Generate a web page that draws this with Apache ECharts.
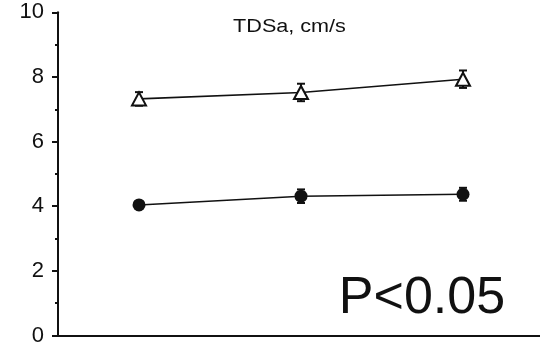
<!DOCTYPE html>
<html>
<head>
<meta charset="utf-8">
<script src="https://cdn.jsdelivr.net/npm/echarts@6/dist/echarts.min.js"></script>
<style>html,body{margin:0;padding:0;background:#fff}#c{width:540px;height:350px}</style>
</head>
<body>
<div id="c"></div>
<script>
var categories = ['T1', 'T2', 'T3'];
var triangleValues = [7.32, 7.52, 7.93];
var triangleErrors = [0.21, 0.27, 0.27];
var circleValues = [4.04, 4.31, 4.37];
var circleErrors = [0.12, 0.21, 0.2];
var yTicks = [0, 2, 4, 6, 8, 10];
var titleText = 'TDSa, cm/s';
var pText = 'P<0.05';

var chart = echarts.init(document.getElementById('c'));

function errData(vals, errs) {
  return vals.map(function (v, i) { return [i, v - errs[i], v + errs[i]]; });
}
function errRender(params, api) {
  var x = api.value(0);
  var lo = api.coord([x, api.value(1)]);
  var hi = api.coord([x, api.value(2)]);
  var hw = 4;
  var st = { stroke: '#111', lineWidth: 2 };
  return {
    type: 'group',
    children: [
      { type: 'line', shape: { x1: lo[0], y1: lo[1], x2: hi[0], y2: hi[1] }, style: st },
      { type: 'line', shape: { x1: lo[0] - hw, y1: lo[1], x2: lo[0] + hw, y2: lo[1] }, style: st },
      { type: 'line', shape: { x1: hi[0] - hw, y1: hi[1], x2: hi[0] + hw, y2: hi[1] }, style: st }
    ]
  };
}

chart.setOption({
  animation: false,
  backgroundColor: '#fff',
  grid: { left: 58, width: 486, top: 12.3, bottom: 14.5, containLabel: false, outerBoundsMode: 'none' },
  xAxis: {
    type: 'category',
    data: categories,
    boundaryGap: true,
    axisLine: { lineStyle: { color: '#111', width: 2 } },
    axisTick: { alignWithLabel: true, length: 4, lineStyle: { color: '#111', width: 2 } },
    axisLabel: { show: false },
    splitLine: { show: false }
  },
  yAxis: {
    type: 'value',
    min: yTicks[0],
    max: yTicks[yTicks.length - 1],
    interval: 2,
    axisLine: { show: true, lineStyle: { color: '#111', width: 2 } },
    axisTick: { show: true, length: 6, lineStyle: { color: '#111', width: 2 } },
    minorTick: { show: true, splitNumber: 2, length: 3, lineStyle: { color: '#111', width: 2 } },
    axisLabel: { fontFamily: 'Liberation Sans', fontSize: 22, color: '#111', margin: 14 },
    splitLine: { show: false }
  },
  series: [
    {
      type: 'custom',
      renderItem: errRender,
      data: errData(triangleValues, triangleErrors),
      z: 1
    },
    {
      type: 'custom',
      renderItem: errRender,
      data: errData(circleValues, circleErrors),
      z: 1
    },
    {
      type: 'line',
      data: triangleValues,
      symbol: 'triangle',
      symbolSize: [14, 13],
      lineStyle: { color: '#111', width: 1.6 },
      itemStyle: { color: '#fff', borderColor: '#111', borderWidth: 2 },
      z: 3
    },
    {
      type: 'line',
      data: circleValues,
      symbol: 'circle',
      symbolSize: 13,
      lineStyle: { color: '#111', width: 1.6 },
      itemStyle: { color: '#111', borderColor: '#111', borderWidth: 0 },
      z: 3
    }
  ],
  graphic: [
    {
      type: 'text',
      x: 289.5,
      y: 27.5,
      scaleX: 1.2,
      style: { text: titleText, x: 0, y: 0, align: 'center', verticalAlign: 'middle', font: '18px "Liberation Sans"', fill: '#111' }
    },
    {
      type: 'text',
      x: 422,
      y: 299,
      style: { text: pText, x: 0, y: 0, align: 'center', verticalAlign: 'middle', font: '52px "Liberation Sans"', fill: '#111' }
    }
  ]
});
</script>
</body>
</html>
